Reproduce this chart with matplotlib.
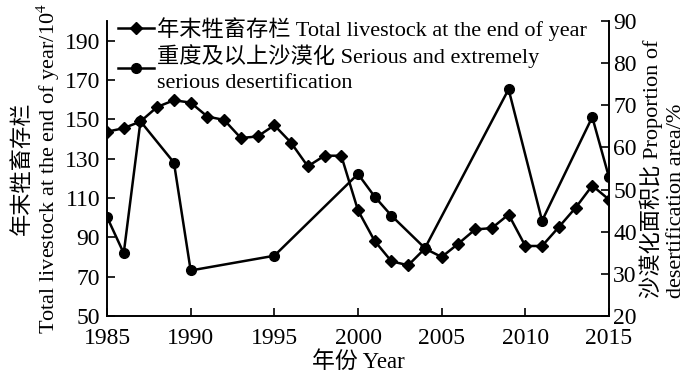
import matplotlib
matplotlib.use('Agg')
import matplotlib.pyplot as plt

plt.rcParams['font.family'] = ['Liberation Serif', 'Noto Sans CJK SC']
plt.rcParams['mathtext.fontset'] = 'stix'

# 年末牲畜存栏 (left axis)
years_live = list(range(1985, 2016))
livestock = [143.7, 145.5, 148.9, 156.3, 159.7, 158.5, 151.4, 149.7, 140.5, 141.3,
             147.0, 138.1, 126.1, 131.5, 131.5, 103.7, 88.1, 77.8, 75.8, 84.3,
             80.0, 86.8, 94.0, 94.7, 101.6, 85.6, 85.6, 95.2, 105.0, 116.3, 109.2]

# 重度及以上沙漠化 (right axis)
years_des = [1985, 1986, 1987, 1989, 1990, 1995, 2000, 2001, 2002, 2004, 2009, 2011, 2014, 2015]
desert = [43.5, 34.9, 66.2, 56.4, 30.8, 34.3, 53.7, 48.3, 43.8, 36.1, 73.8, 42.6, 67.2, 52.9]

xticks = [1985, 1990, 1995, 2000, 2005, 2010, 2015]
left_ticks = [50, 70, 90, 110, 130, 150, 170, 190]
right_ticks = [20, 30, 40, 50, 60, 70, 80, 90]

fig = plt.figure(figsize=(7, 3.79), dpi=100)
ax = fig.add_axes([107/700, 1-316/379, (609-107)/700, (316-21)/379])
ax2 = ax.twinx()

l1, = ax.plot(years_live, livestock, color='black', lw=1.8, marker='D', ms=6.5,
              label='年末牲畜存栏 Total livestock at the end of year')
l2, = ax2.plot(years_des, desert, color='black', lw=1.8, marker='o', ms=7,
               label='重度及以上沙漠化 Serious and extremely\nserious desertification')

ax.set_xlim(1985, 2015)
ax.set_ylim(50, 200)
ax2.set_ylim(20, 90)
ax.set_xticks(xticks)
ax.set_yticks(left_ticks)
ax2.set_yticks(right_ticks)

for a in (ax, ax2):
    a.spines['top'].set_visible(False)
    for s in a.spines.values():
        s.set_linewidth(1.2)
    a.tick_params(direction='in', length=6, width=1.2, labelsize=17, pad=5)
ax.tick_params(axis='x', pad=9)
ax2.tick_params(axis='y', pad=3)

ax.set_xlabel('年份 Year', fontsize=16.5, labelpad=1)
ax.set_ylabel('年末牲畜存栏\nTotal livestock at the end of year/10$^4$',
              fontsize=16, labelpad=2, linespacing=1.05)
ax2.set_ylabel('沙漠化面积比 Proportion of\ndesertification area/%',
               fontsize=16, labelpad=2, linespacing=1.25, multialignment='left')

leg = ax2.legend(handles=[l1, l2], loc='upper left', bbox_to_anchor=(0.0, 1.05),
                 frameon=False, fontsize=16, handlelength=1.6, handletextpad=0.15,
                 labelspacing=0.12, borderaxespad=0.2, borderpad=0.3)
for t in leg.get_texts():
    t.set_linespacing(1.45)

fig.savefig('out.png', dpi=100)
